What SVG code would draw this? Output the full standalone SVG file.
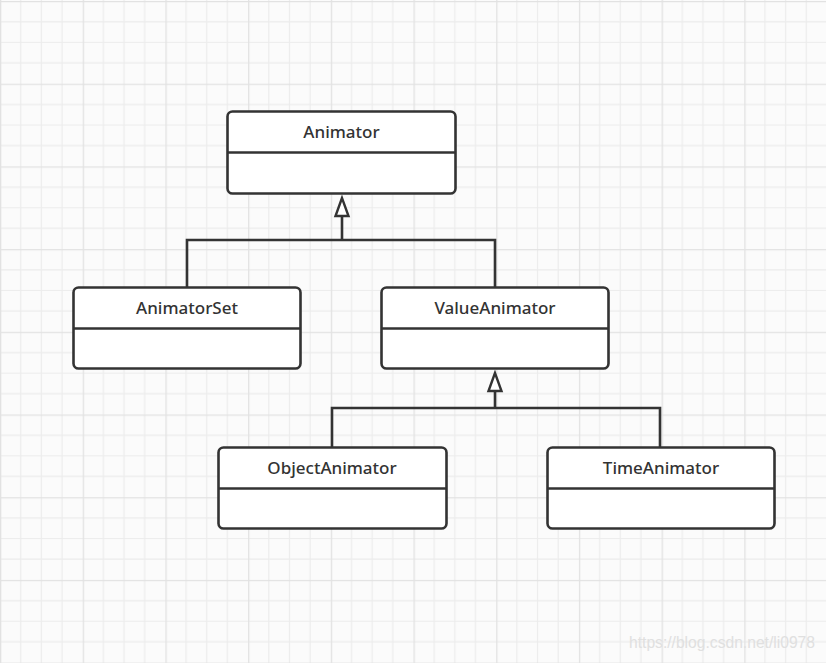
<svg xmlns="http://www.w3.org/2000/svg" width="826" height="663" viewBox="0 0 826 663">
<style>
.box{fill:#fff;stroke:#333;stroke-width:2.6}
.div{stroke:#333;stroke-width:2.4}
.lbl{font-family:"Noto Sans","Liberation Sans",sans-serif;font-size:17px;fill:#333;text-anchor:middle;font-weight:500}
.con{fill:none;stroke:#333;stroke-width:2.6}
.tri{fill:#fff;stroke:#333;stroke-width:2.4;stroke-linejoin:miter}
</style>
<defs>
<pattern id="grid" x="0" y="1" width="82.7" height="82.7" patternUnits="userSpaceOnUse">
<path d="M20.7 0V82.7M41.35 0V82.7M62 0V82.7M0 20.7H82.7M0 41.35H82.7M0 62H82.7" stroke="#ececec" stroke-width="1.2" fill="none"/>
<path d="M0.5 0V82.7M0 0.5H82.7" stroke="#e2e2e2" stroke-width="1.6" fill="none"/>
</pattern>
</defs>
<rect width="826" height="663" fill="#fbfbfb"/>
<rect width="826" height="663" fill="url(#grid)"/>
<g id="connectors">
<path class="con" d="M187 287V240H495V287"/>
<path class="con" d="M342 240V216"/>
<polygon class="tri" points="342,198 335.5,216 348.5,216"/>
<path class="con" d="M332 447V408H660V447"/>
<path class="con" d="M495 408V391"/>
<polygon class="tri" points="495,373 488.5,391 501.5,391"/>
</g>
<g id="Animator">
<rect class="box" x="227.5" y="111.5" width="228" height="82" rx="5"/>
<line class="div" x1="227.5" y1="152.5" x2="455.5" y2="152.5"/>
<text class="lbl" x="341.5" y="138">Animator</text>
</g>
<g id="AnimatorSet">
<rect class="box" x="73.5" y="287.5" width="227" height="81" rx="5"/>
<line class="div" x1="73.5" y1="328.5" x2="300.5" y2="328.5"/>
<text class="lbl" x="187" y="314">AnimatorSet</text>
</g>
<g id="ValueAnimator">
<rect class="box" x="381.5" y="287.5" width="227" height="81" rx="5"/>
<line class="div" x1="381.5" y1="328.5" x2="608.5" y2="328.5"/>
<text class="lbl" x="495" y="314">ValueAnimator</text>
</g>
<g id="ObjectAnimator">
<rect class="box" x="218.5" y="447.5" width="228" height="81" rx="5"/>
<line class="div" x1="218.5" y1="488.5" x2="446.5" y2="488.5"/>
<text class="lbl" x="332" y="474">ObjectAnimator</text>
</g>
<g id="TimeAnimator">
<rect class="box" x="547.5" y="447.5" width="227" height="81" rx="5"/>
<line class="div" x1="547.5" y1="488.5" x2="774.5" y2="488.5"/>
<text class="lbl" x="661" y="474">TimeAnimator</text>
</g>
<text x="629" y="648" font-family="Liberation Sans, Arial, sans-serif" font-size="16" textLength="186" lengthAdjust="spacingAndGlyphs" fill="#e0e0e0">https://blog.csdn.net/li0978</text>
</svg>
